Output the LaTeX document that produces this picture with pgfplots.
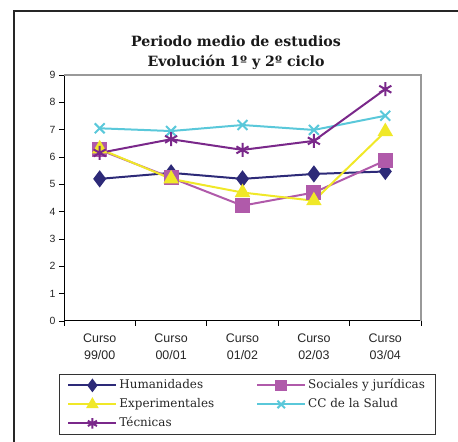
\documentclass[border=0pt]{standalone}
\usepackage{pgfplots}
\pgfplotsset{compat=1.18}
\usepackage{fontspec}
\setmainfont{DejaVu Serif}
\newfontfamily\arial{Liberation Sans}
\definecolor{chum}{RGB}{45,42,120}
\definecolor{csoc}{RGB}{176,90,170}
\definecolor{cexp}{RGB}{240,232,40}
\definecolor{csal}{RGB}{90,200,218}
\definecolor{ctec}{RGB}{122,40,138}
\begin{document}
\begin{tikzpicture}
\useasboundingbox (0bp,0bp) rectangle (458bp,442bp);
\draw[line width=1.3bp, black!85] (14bp,0bp) -- (14bp,431bp) -- (458bp,431bp);
\node[font=\bfseries\fontsize{14.2}{20.5}\selectfont, align=center, text=black!90] at (236bp,389.5bp) {Periodo medio de estudios\\Evolución 1º y 2º ciclo};
\begin{axis}[
  at={(64bp,121bp)}, anchor=south west,
  scale only axis, width=357bp, height=246bp,
  xmin=0.5, xmax=5.5, ymin=0, ymax=9,
  ytick={0,...,9},
  xtick={1,...,5},
  xticklabels={Curso\\99/00,Curso\\00/01,Curso\\01/02,Curso\\02/03,Curso\\03/04},
  minor xtick={0.5,1.5,...,5.5},
  major x tick style={draw=none},
  tick align=outside,
  major tick length=5bp, minor tick length=5bp,
  tick style={black, line width=0.8bp},
  axis x line*=bottom, axis y line*=left,
  axis line style={black, line width=1bp, -},
  /pgf/number format/assume math mode=true,
  yticklabel style={font=\arial\fontsize{10.5}{12}\selectfont, text=black!85},
  xticklabel style={font=\arial\fontsize{12.5}{17.5}\selectfont, align=center, text=black!85, yshift=-4bp},
  clip=false,
  after end axis/.code={\draw[gray!80, line width=1.5bp] (rel axis cs:0,1) -- (rel axis cs:1,1) -- (rel axis cs:1,0);},
  every axis plot/.append style={line width=2bp, mark options={solid}},
  legend columns=2,
  legend style={at={(-0.014,-0.2154)}, anchor=north west, draw=black!80, line width=0.8bp,
    inner xsep=8bp, inner ysep=3bp, row sep=3bp,
    font=\fontsize{12}{13}\selectfont,
    nodes={text height=9bp, text depth=3bp, inner xsep=2bp, inner ysep=2bp, text=black!85},
    /tikz/column 2/.style={column sep=40bp}},
  legend cell align=left,
  legend image code/.code={\draw[mark repeat=2,mark phase=2] plot coordinates {(0bp,0bp)(24bp,0bp)(48bp,0bp)};},
  legend image post style={mark options={scale=0.75}},
]
\addplot[chum, mark=diamond*, mark size=7bp, mark options={fill=chum}] coordinates {(1,5.2)(2,5.42)(3,5.2)(4,5.38)(5,5.47)};
\addlegendentry{Humanidades}
\addplot[csoc, mark=square*, mark size=6.5bp, mark options={fill=csoc}] coordinates {(1,6.26)(2,5.24)(3,4.22)(4,4.7)(5,5.87)};
\addlegendentry{Sociales y jurídicas}
\addplot[cexp, mark=triangle*, mark size=7bp, mark options={fill=cexp}] coordinates {(1,6.3)(2,5.2)(3,4.7)(4,4.4)(5,6.93)};
\addlegendentry{Experimentales}
\addplot[csal, mark=x, mark size=7bp, mark options={line width=2bp}] coordinates {(1,7.05)(2,6.95)(3,7.17)(4,6.99)(5,7.51)};
\addlegendentry{CC de la Salud}
\addplot[ctec, mark=asterisk, mark size=7bp, mark options={line width=2bp}] coordinates {(1,6.15)(2,6.65)(3,6.26)(4,6.59)(5,8.48)};
\addlegendentry{Técnicas}
\end{axis}
\end{tikzpicture}
\end{document}
